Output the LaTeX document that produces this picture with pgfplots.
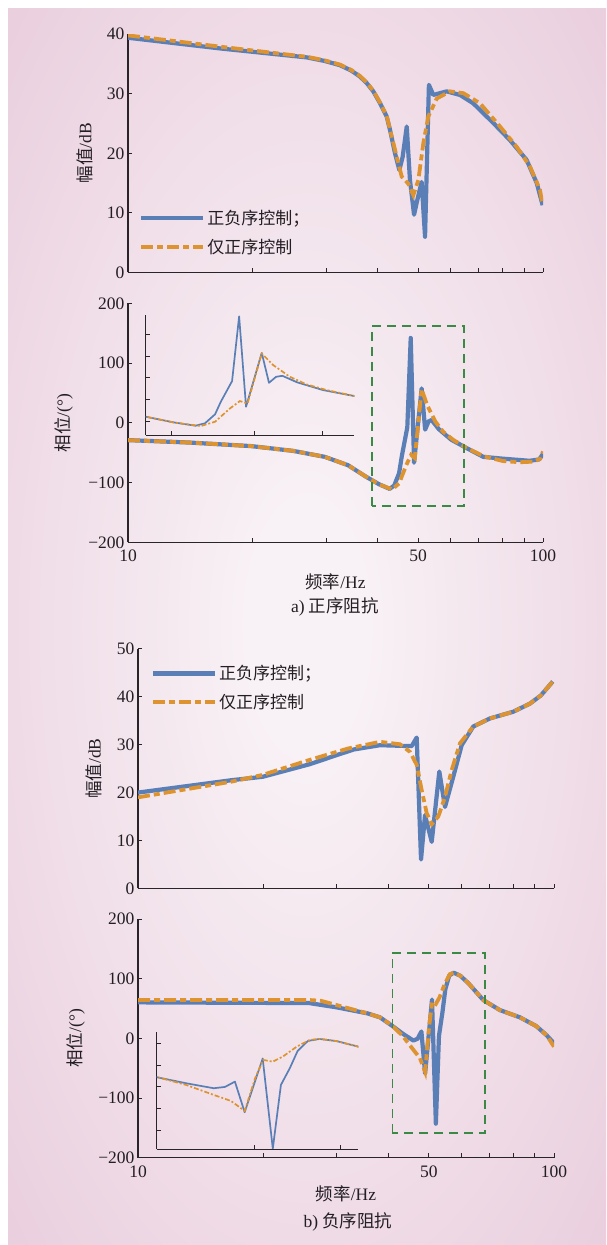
\documentclass[border=0pt]{standalone}
\usepackage{fontspec}
\setmainfont{Liberation Serif}
\newfontfamily\cjk{Noto Sans CJK SC}
\usepackage{pgfplots}
\pgfplotsset{compat=1.18}
\usepackage{pgfplotstable}

\definecolor{cblue}{RGB}{90,127,182}
\definecolor{corange}{RGB}{221,148,48}
\definecolor{cgreen}{RGB}{58,138,69}
\definecolor{caxis}{RGB}{40,36,40}
\definecolor{ctext}{RGB}{34,30,34}
\definecolor{bgout}{RGB}{229,195,214}
\definecolor{bgin}{RGB}{248,241,245}
\pgfdeclareradialshading{bgshade}{\pgfpoint{0bp}{0bp}}{color(0bp)=(bgin); color(5bp)=(bgin); color(46bp)=(bgout); color(100bp)=(bgout)}

\pgfplotstableread{
f v
10 39.4
16.7 37.6
27 36.1
29.8 35.5
32.4 34.8
34.5 33.9
36.2 32.9
37.6 31.8
39.0 30.4
40.5 28.4
42.0 26.2
42.8 23.9
44.0 20.0
45.06 17.2
45.9 19.4
46.95 24.5
47.8 15.5
48.9 9.7
49.8 12.2
51.0 15.2
51.97 6.0
53.1 31.5
54.4 29.8
58.6 30.4
63.1 29.8
67.9 28.4
75.9 25.1
83.3 22.2
91.3 18.9
96.6 15.0
99.8 11.3
}\tmB
\pgfplotstableread{
f v
10 39.8
16.7 37.9
27 36.2
29.8 35.6
32.4 34.9
34.5 34.0
36.2 33.0
37.6 31.9
39.0 30.5
40.5 28.5
42.0 26.3
43.6 21.7
45.66 16.1
47.36 14.9
48.7 13.0
50.07 15.5
51.48 21.7
52.93 26.2
55.46 29.2
59.7 30.4
64.27 30.1
70.5 28.4
78.8 24.5
86.4 21.1
93.0 17.8
98.3 13.9
99.8 11.3
}\tmO
\pgfplotstableread{
f v
10 -29
14 -33
19.8 -39
25 -47
29.8 -57
33.9 -71
37.37 -89.8
40.25 -102.8
42.7 -110.6
43.8 -105
45.0 -84.3
45.7 -55.3
47.1 -7.6
48.0 142
48.9 -66.8
51.0 57.6
52.0 -11.5
53.0 2.3
53.9 4.6
56.1 -10.6
60.1 -28.3
65.4 -42.2
71.8 -57
79.9 -60
92.8 -63.6
97.9 -61.3
100 -52
}\tpB
\pgfplotstableread{
f v
10 -29
14 -33
19.8 -39
25 -47
29.8 -57
33.9 -71
37.37 -89.8
40.25 -103
43.3 -111.5
45.0 -101.4
46.85 -70.5
48.1 -53.7
49.1 -59
51.0 56.2
52.6 29.3
55.0 2.3
57.5 -15.2
60.7 -28.3
65.2 -41.5
72 -56
80 -64
88 -66
95 -65
98.5 -60
100 -48
}\tpO
\pgfplotstableread{
f v
10 20.0
16.82 22.6
19.95 23.3
25.8 25.9
29.97 27.8
33 29.0
38.17 29.9
45.48 29.7
46.77 31.5
47.9 6.0
48.97 15.3
50.82 9.7
53.0 24.4
54.7 17.0
57.26 23.3
59.99 29.9
63.97 33.8
70.2 35.5
79.86 36.9
87.58 38.6
93 40.3
99.3 43.2
}\bmB
\pgfplotstableread{
f v
10 19.0
16.82 22.3
19.95 23.7
25.8 26.8
31.96 29.2
38.17 30.6
42.64 30.1
45.06 28.5
46.77 25.8
48.08 20.5
49.43 15.7
50.82 13.4
52.71 15.0
54.7 19.1
56.76 24.7
59.43 30.3
63.97 33.8
70.2 35.5
79.86 36.9
87.58 38.6
93 40.3
99.3 43.2
}\bmO
\pgfplotstableread{
f v
10 60.3
25.8 59.1
30 52
35.6 41.9
38.17 35.2
40.7 21.7
43.3 7.8
45.9 -3.7
47.0 -0.7
48.0 11.5
49.0 -59
50.9 65
52.0 -143
52.9 4
53.9 42.4
54.8 82.3
56.0 105.3
57.4 110
59.5 105
62.3 92.2
67.6 64.2
74.1 47.4
82.8 35.2
90.6 20.6
95.9 5.5
100 -8.4
}\bpB
\pgfplotstableread{
f v
10 64.2
25.8 64.2
27.5 63
30 55.8
35.6 41.9
38.17 35.2
40.7 22.2
43.3 3.9
45.9 -19.1
47.6 -33
49.0 -56
50.1 20
50.96 61.5
52.0 57.6
53.1 69.1
54.7 92.2
56.2 107.6
57.4 110
59.5 105
62.3 92.2
67.6 64.2
74.1 47.4
82.8 35.2
90.6 20.6
95.9 5.5
100 -14
}\bpO

\pgfplotsset{
 myMain/.style={scale only axis, xmin=10, xmax=100,
  axis lines=left, axis line style={-, line width=1.1pt, caxis},
  tick align=inside, major tick length=4.5pt, tick style={line width=1pt, caxis},
  minor xtick={}, xtick={10,20,30,40,50,60,70,80,90,100},
  tick label style={font=\fontsize{17.5}{18}\selectfont, text=ctext},
  xticklabel style={yshift=-4.5pt},
  label style={font=\fontsize{17.5}{18}\selectfont, text=ctext}},
 myIns/.style={scale only axis,
  axis lines=left, axis line style={-, line width=0.9pt, caxis},
  tick align=inside, major tick length=4pt, tick style={line width=0.8pt, caxis},
  minor xtick={}, xticklabels={,,,}, yticklabels={,,,,,}},
 myBl/.style={cblue, line width=4.2pt, line join=round},
 myOr/.style={corange, line width=3.8pt, dash pattern=on 12pt off 4pt on 6pt off 4pt},
 myBli/.style={cblue, line width=1.7pt, line join=round},
 myOri/.style={corange, line width=1.7pt, dash pattern=on 5pt off 2pt on 2pt off 2pt},
 myLeg/.style={legend style={draw=none, fill=none, at={#1}, anchor=north west,
   font=\fontsize{17}{17}\selectfont\cjk, text=ctext, row sep=9pt, inner sep=0pt},
  legend cell align=left,
  legend image code/.code={\draw[##1] (0pt,0pt) -- (62pt,0pt);}},
}

\begin{document}
\begin{tikzpicture}
\fill[white] (0pt,0pt) rectangle (606pt,1245pt);
\shade[shading=bgshade] (8pt,0pt) rectangle (606pt,1236pt);

% top magnitude
\begin{axis}[xmode=log, myMain, at={(128pt,972.5pt)}, anchor=south west, width=415pt, height=238.3pt,
  ymin=0, ymax=40, ytick={0,10,20,30,40}, yticklabels={0,10,20,30,40},
  xticklabels={,,,,,,,,,},
  ylabel={{\cjk 幅值}/dB}, ylabel style={at={(axis description cs:-0.104,0.5)}, anchor=center},
  myLeg={(axis description cs:0.0265,0.272)}]
\addplot[myBl] table[x=f,y=v] {\tmB}; \addlegendentry{正负序控制；}
\addplot[myOr] table[x=f,y=v] {\tmO}; \addlegendentry{仅正序控制}
\end{axis}

% top phase
\begin{axis}[xmode=log, myMain, at={(128pt,702.7pt)}, anchor=south west, width=415pt, height=239pt,
  ymin=-200, ymax=200, ytick={-200,-100,0,100,200}, yticklabels={−200,−100,0,100,200},
  xticklabels={10,,,,50,,,,,100},
  ylabel={{\cjk 相位}/(°)}, ylabel style={at={(axis description cs:-0.155,0.5)}, anchor=center},
  xlabel={{\cjk 频率}/Hz}, xlabel style={at={(axis description cs:0.5,-0.166)}, anchor=center}]
\addplot[myBl] table[x=f,y=v] {\tpB};
\addplot[myOr] table[x=f,y=v] {\tpO};
\draw[cgreen, line width=1.6pt, dash pattern=on 9pt off 6pt] (axis cs:38.7,-139) rectangle (axis cs:64.5,162);
\end{axis}

% top inset
\begin{axis}[xmode=log, myIns, at={(145.7pt,810pt)}, anchor=south west, width=208.6pt, height=120pt,
  xmin=37.37, xmax=65.37, ymin=-132, ymax=145, xtick={40,50,60}, ytick={-100,-50,0,50,100}]
\addplot[myBli] table[x=f,y=v] {\tpB};
\addplot[myOri] table[x=f,y=v] {\tpO};
\end{axis}

% bottom magnitude
\begin{axis}[xmode=log, myMain, at={(138pt,356.7pt)}, anchor=south west, width=416pt, height=239.3pt,
  ymin=0, ymax=50, ytick={0,10,20,30,40,50}, yticklabels={0,10,20,30,40,50},
  xticklabels={,,,,,,,,,},
  ylabel={{\cjk 幅值}/dB}, ylabel style={at={(axis description cs:-0.106,0.5)}, anchor=center},
  myLeg={(axis description cs:0.0305,0.94)}]
\addplot[myBl] table[x=f,y=v] {\bmB}; \addlegendentry{正负序控制；}
\addplot[myOr] table[x=f,y=v] {\bmO}; \addlegendentry{仅正序控制}
\end{axis}

% bottom phase
\begin{axis}[xmode=log, myMain, at={(138pt,87.3pt)}, anchor=south west, width=416pt, height=238.7pt,
  ymin=-200, ymax=200, ytick={-200,-100,0,100,200}, yticklabels={−200,−100,0,100,200},
  xticklabels={10,,,,50,,,,,100},
  ylabel={{\cjk 相位}/(°)}, ylabel style={at={(axis description cs:-0.150,0.5)}, anchor=center},
  xlabel={{\cjk 频率}/Hz}, xlabel style={at={(axis description cs:0.5,-0.152)}, anchor=center}]
\addplot[myBl] table[x=f,y=v] {\bpB};
\addplot[myOr] table[x=f,y=v] {\bpO};
\draw[cgreen, line width=1.6pt, dash pattern=on 9pt off 6pt] (axis cs:40.9,-159) rectangle (axis cs:68.3,143);
\end{axis}

% bottom inset
\begin{axis}[xmode=log, myIns, at={(156.7pt,96pt)}, anchor=south west, width=201.6pt, height=116.7pt,
  xmin=40.69, xmax=62.3, ymin=-143.8, ymax=125.3, xtick={50,60}, ytick={-100,-50,0,50,100}]
\addplot[myBli] table[x=f,y=v] {\bpB};
\addplot[myOri] table[x=f,y=v] {\bpO};
\end{axis}

\node[font=\fontsize{17.5}{18}\selectfont, text=ctext] at (335pt,638.3pt) {a) {\cjk 正序阻抗}};
\node[font=\fontsize{17.5}{18}\selectfont, text=ctext] at (348pt,23.3pt) {b) {\cjk 负序阻抗}};
\end{tikzpicture}
\end{document}
